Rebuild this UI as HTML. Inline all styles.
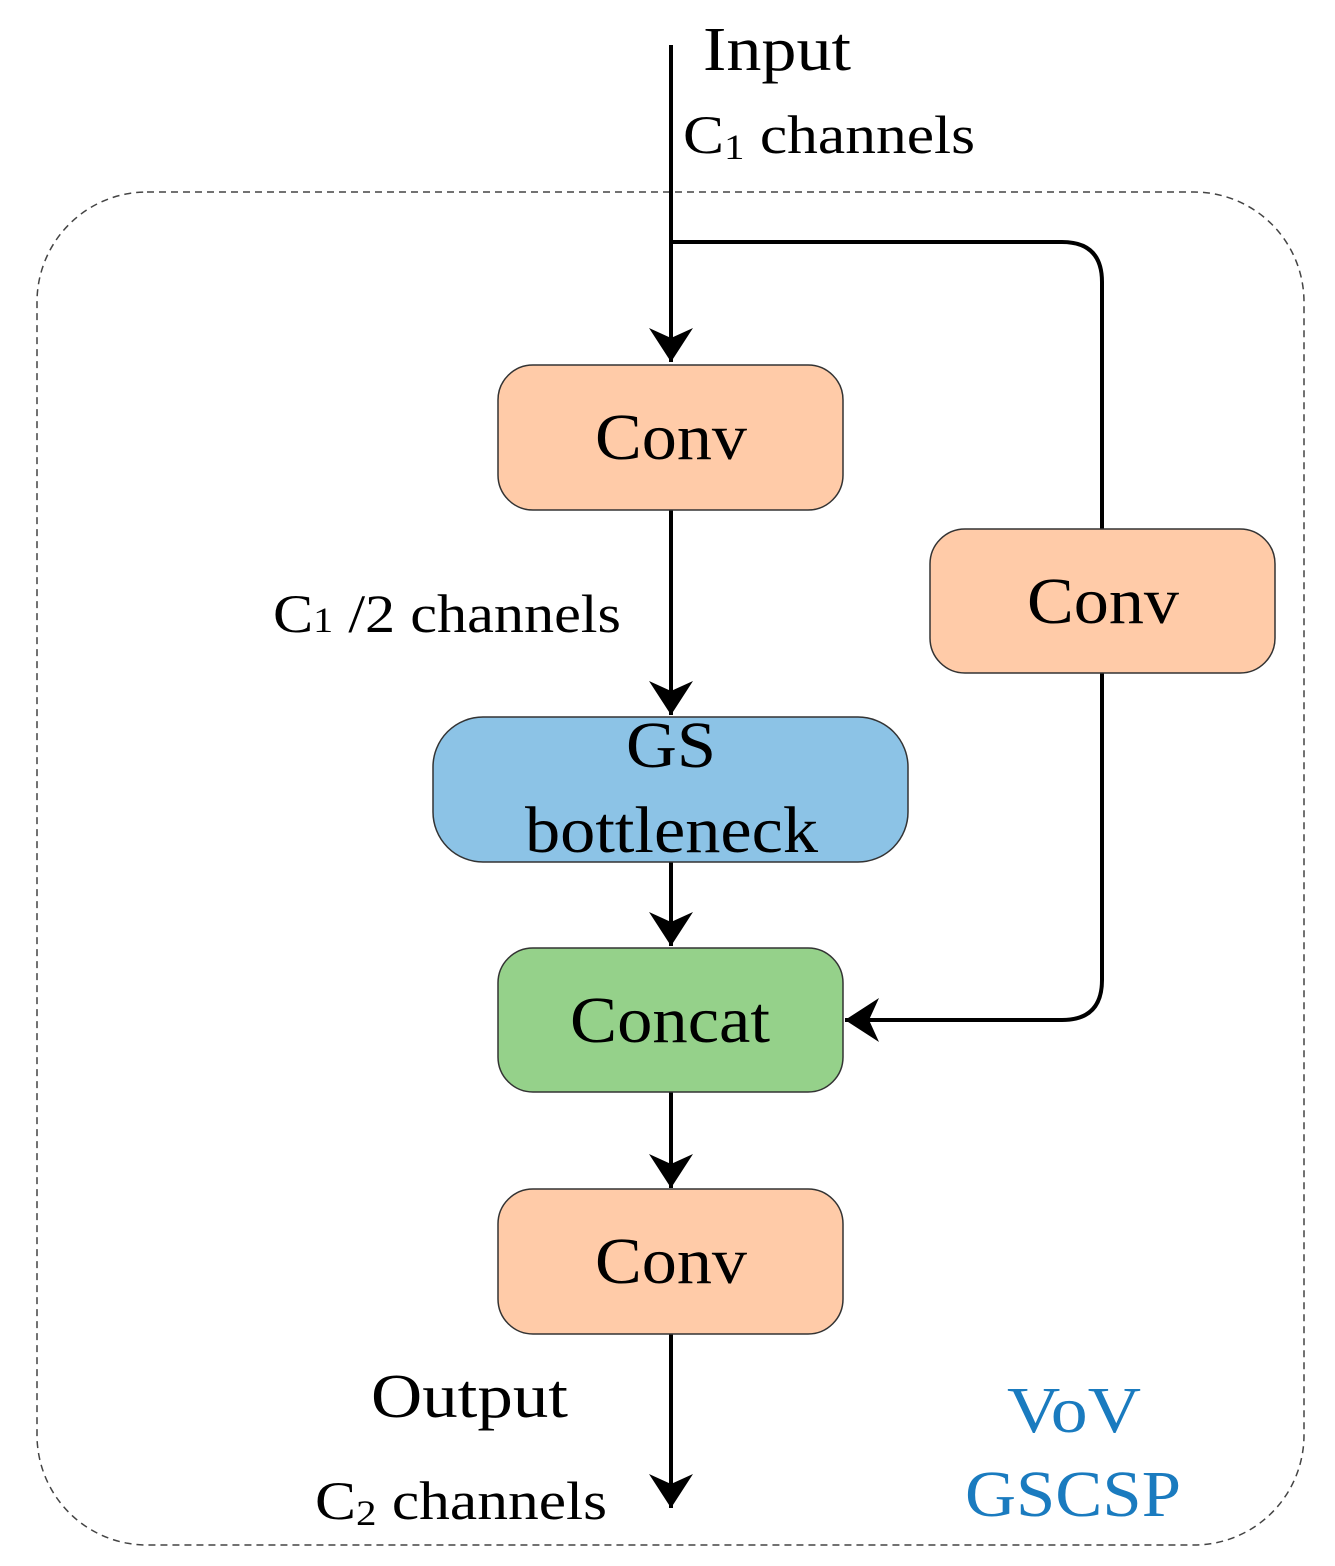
<!DOCTYPE html>
<html><head><meta charset="utf-8"><style>body{margin:0;background:#fff}</style></head><body>
<svg width="1335" height="1561" viewBox="0 0 1335 1561" xmlns="http://www.w3.org/2000/svg" font-family="Liberation Serif, serif">
<defs>
<marker id="b" viewBox="0 0 34 44" markerWidth="34" markerHeight="44" refX="34" refY="22" orient="auto" markerUnits="userSpaceOnUse"><path d="M0,0 L34,22 L0,44 L10,22 Z" fill="#000"/></marker></defs>
<rect x="37" y="192" width="1267" height="1353" rx="110" fill="none" stroke="#444" stroke-width="1.5" stroke-dasharray="7,5"/>
<g stroke="#000" stroke-width="4" fill="none">
<path d="M671 45 V362" marker-end="url(#b)"/>
<path d="M671 242 H1062 Q1102 242 1102 282 V529"/>
<path d="M671 510 V715" marker-end="url(#b)"/>
<path d="M671 862 V946" marker-end="url(#b)"/>
<path d="M671 1092 V1188" marker-end="url(#b)"/>
<path d="M671 1334 V1508" marker-end="url(#b)"/>
<path d="M1102 673 V980 Q1102 1020 1062 1020 H845" marker-end="url(#b)"/>
</g>
<g stroke="#333" stroke-width="1.5">
<rect x="498" y="365" width="345" height="145" rx="35" fill="#FFCBA8"/>
<rect x="930" y="529" width="345" height="144" rx="35" fill="#FFCBA8"/>
<rect x="433" y="717" width="475" height="145" rx="50" fill="#8CC3E6"/>
<rect x="498" y="948" width="345" height="144" rx="35" fill="#95D18A"/>
<rect x="498" y="1189" width="345" height="145" rx="35" fill="#FFCBA8"/>
</g>
<g font-size="66" fill="#000" lengthAdjust="spacingAndGlyphs">
<text x="595" y="459" textLength="152" lengthAdjust="spacingAndGlyphs">Conv</text>
<text x="1027" y="623" textLength="152" lengthAdjust="spacingAndGlyphs">Conv</text>
<text x="626" y="767" textLength="90" lengthAdjust="spacingAndGlyphs">GS</text>
<text x="525" y="852" textLength="293" lengthAdjust="spacingAndGlyphs">bottleneck</text>
<text x="570" y="1042" textLength="200" lengthAdjust="spacingAndGlyphs">Concat</text>
<text x="595" y="1283" textLength="152" lengthAdjust="spacingAndGlyphs">Conv</text>
</g>
<g font-size="54" fill="#000">
<text x="703" y="70" font-size="62" textLength="148" lengthAdjust="spacingAndGlyphs">Input</text>
<text x="683" y="153" textLength="292" lengthAdjust="spacingAndGlyphs">C<tspan font-size="36" dy="6">1</tspan><tspan dy="-6"> channels</tspan></text>
<text x="273" y="632" textLength="348" lengthAdjust="spacingAndGlyphs">C<tspan font-size="36">1</tspan> /2 channels</text>
<text x="371" y="1417" font-size="62" textLength="197" lengthAdjust="spacingAndGlyphs">Output</text>
<text x="315" y="1519" textLength="292" lengthAdjust="spacingAndGlyphs">C<tspan font-size="36" dy="6">2</tspan><tspan dy="-6"> channels</tspan></text>
</g>
<g font-size="66" fill="#1a7bbf">
<text x="1007" y="1432" textLength="134" lengthAdjust="spacingAndGlyphs">VoV</text>
<text x="965" y="1516" textLength="216" lengthAdjust="spacingAndGlyphs">GSCSP</text>
</g>
</svg>
</body></html>
